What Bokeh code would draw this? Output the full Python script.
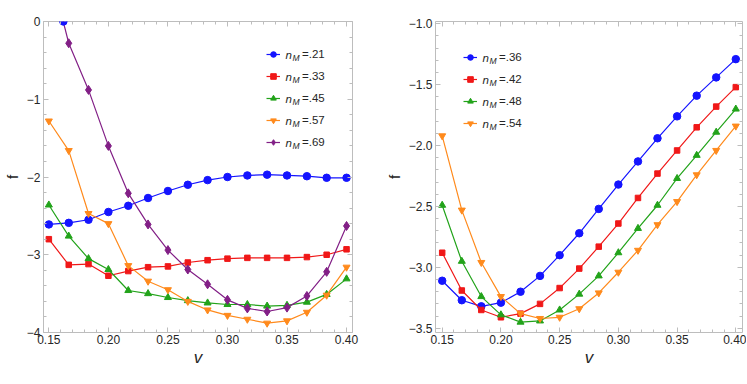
from bokeh.plotting import figure
from bokeh.layouts import row
from bokeh.models import (LinearAxis, FixedTicker, Legend, LegendItem, Label,
                          Range1d, CustomJSTickFormatter)
from bokeh.embed import file_html
from bokeh.resources import INLINE

# ---------------- data ----------------
v = [0.15, 0.1667, 0.1833, 0.2, 0.2167, 0.2333, 0.25, 0.2667, 0.2833, 0.3,
     0.3167, 0.3333, 0.35, 0.3667, 0.3833, 0.4]

# left panel
f_21 = [-2.61, -2.59, -2.55, -2.45, -2.37, -2.27, -2.18, -2.10, -2.04, -2.00,
        -1.98, -1.97, -1.98, -1.99, -2.01, -2.01]
f_33 = [-2.80, -3.13, -3.12, -3.27, -3.21, -3.16, -3.15, -3.10, -3.07, -3.05,
        -3.04, -3.04, -3.04, -3.03, -3.00, -2.93]
f_45 = [-2.36, -2.76, -3.05, -3.19, -3.46, -3.50, -3.55, -3.59, -3.62, -3.64,
        -3.64, -3.66, -3.65, -3.61, -3.51, -3.31]
f_57 = [-1.28, -1.66, -2.47, -2.60, -3.14, -3.34, -3.45, -3.60, -3.71, -3.78,
        -3.83, -3.88, -3.85, -3.74, -3.52, -3.16]
f_69 = [0.73, -0.28, -0.88, -1.60, -2.21, -2.61, -2.94, -3.19, -3.38, -3.58,
        -3.69, -3.73, -3.68, -3.53, -3.22, -2.63]
# stray blue marker clipped at the top edge of the left panel
extra_v = [0.1622]
extra_f = [0.0]

# right panel
f_36 = [-3.11, -3.27, -3.32, -3.29, -3.20, -3.07, -2.90, -2.72, -2.52, -2.32,
        -2.13, -1.94, -1.76, -1.59, -1.44, -1.29]
f_42 = [-2.88, -3.19, -3.35, -3.41, -3.38, -3.30, -3.17, -3.01, -2.83, -2.64,
        -2.43, -2.23, -2.04, -1.85, -1.68, -1.52]
f_48 = [-2.49, -2.95, -3.24, -3.39, -3.45, -3.44, -3.35, -3.22, -3.07, -2.88,
        -2.68, -2.49, -2.27, -2.08, -1.89, -1.70]
f_54 = [-1.92, -2.53, -2.96, -3.24, -3.38, -3.42, -3.41, -3.34, -3.21, -3.04,
        -2.86, -2.65, -2.46, -2.24, -2.04, -1.84]

left_labels = [".21", ".33", ".45", ".57", ".69"]
right_labels = [".36", ".42", ".48", ".54"]

x_ticks = [0.15, 0.20, 0.25, 0.30, 0.35, 0.40]
x_minor = [round(0.14 + 0.01 * i, 2) for i in range(28)]
left_y_ticks = [-4, -3, -2, -1, 0]
left_y_minor = [round(-4.2 + 0.2 * i, 1) for i in range(23)]
right_y_ticks = [-3.5, -3.0, -2.5, -2.0, -1.5, -1.0]
right_y_minor = [round(-3.5 + 0.1 * i, 1) for i in range(26)]

# ---------------- style ----------------
BLUE = "#1414ff"
RED = "#f01818"
GREEN = "#22a31a"
ORANGE = "#ff8a1c"
PURPLE = "#821f86"
FONT = "Liberation Sans"
FRAME = "#bdbdbd"
TXT = "#262626"

styles = [
    (BLUE, "circle", 7.5),
    (RED, "square", 5.5),
    (GREEN, "triangle", 7),
    (ORANGE, "inverted_triangle", 7),
    (PURPLE, "diamond", 9),
]

x_fmt = CustomJSTickFormatter(code="return tick.toFixed(2);")
blank_fmt = CustomJSTickFormatter(code="return '';")


def y_fmt(dec):
    return CustomJSTickFormatter(
        code="return (tick < 0 ? '\u2212' : '') + Math.abs(tick).toFixed(%d);" % dec)


def style_axis(ax, labeled):
    ax.axis_line_color = None
    ax.major_tick_in = 5
    ax.major_tick_out = 0
    ax.minor_tick_in = 3
    ax.minor_tick_out = 0
    ax.major_tick_line_color = FRAME
    ax.minor_tick_line_color = FRAME
    ax.major_label_standoff = 3
    ax.major_label_text_font = FONT
    ax.major_label_text_font_size = "12px"
    ax.major_label_text_color = TXT
    if not labeled:
        ax.formatter = blank_fmt
        ax.major_label_standoff = 0
        ax.major_label_text_font_size = "1px"


def make_fig(width, height, bl, br, bt, bb, xr, yr, yt, ym, ydec):
    p = figure(width=width, height=height, x_range=Range1d(*xr), y_range=Range1d(*yr),
               output_backend="svg", toolbar_location=None, x_axis_location=None,
               y_axis_location=None, min_border_left=bl, min_border_right=br,
               min_border_top=bt, min_border_bottom=bb)
    p.grid.visible = False
    p.outline_line_color = FRAME
    p.outline_line_width = 1
    p.background_fill_color = "white"
    p.border_fill_color = "white"
    xt = FixedTicker(ticks=x_ticks, minor_ticks=x_minor)
    ytk = FixedTicker(ticks=yt, minor_ticks=ym)
    bottom = LinearAxis(ticker=xt, formatter=x_fmt, axis_label="v")
    style_axis(bottom, True)
    bottom.major_label_standoff = 2
    bottom.axis_label_text_font = FONT
    bottom.axis_label_text_font_style = "italic"
    bottom.axis_label_text_font_size = "17px"
    bottom.axis_label_text_color = TXT
    bottom.axis_label_standoff = 1
    left = LinearAxis(ticker=ytk, formatter=y_fmt(ydec), axis_label="f")
    style_axis(left, True)
    left.axis_label_text_font = FONT
    left.axis_label_text_font_style = "normal"
    left.axis_label_text_font_size = "15px"
    left.axis_label_text_color = TXT
    left.axis_label_standoff = 3
    top = LinearAxis(ticker=xt)
    style_axis(top, False)
    right = LinearAxis(ticker=ytk)
    style_axis(right, False)
    p.add_layout(bottom, "below")
    p.add_layout(left, "left")
    p.add_layout(top, "above")
    p.add_layout(right, "right")
    return p


def add_series(p, ys, labels, legend_x, legend_bottom):
    items = []
    for i, (y, lab) in enumerate(zip(ys, labels)):
        col, mk, sz = styles[i]
        ln = p.line(v, y, line_color=col, line_width=1.2)
        sc = p.scatter(v, y, marker=mk, size=sz, fill_color=col, line_color=col)
        items.append(LegendItem(label="=" + lab, renderers=[ln, sc]))
    n = len(items)
    lg = Legend(items=items, location=(legend_x, legend_bottom), orientation="vertical",
                padding=0, margin=0, spacing=6, glyph_width=14, glyph_height=16,
                label_height=16, label_standoff=22, border_line_alpha=0,
                background_fill_alpha=0, label_text_font=FONT,
                label_text_font_size="11.5px", label_text_color=TXT)
    p.add_layout(lg)
    top = legend_bottom + n * 16 + (n - 1) * 6
    for i in range(n):
        yc = top - 8 - 22 * i
        p.add_layout(Label(x=legend_x + 19, y=yc, x_units="screen", y_units="screen",
                           text="n", text_font=FONT, text_font_style="italic",
                           text_font_size="11.5px", text_color=TXT,
                           text_baseline="middle", text_align="left"))
        p.add_layout(Label(x=legend_x + 26, y=yc - 3.5, x_units="screen", y_units="screen",
                           text="M", text_font=FONT, text_font_style="italic",
                           text_font_size="8.5px", text_color=TXT,
                           text_baseline="middle", text_align="left"))


# left panel: frame x 43..352, y 21..332
p1 = make_fig(382, 384, 43, 30, 21, 52, (0.1455, 0.405), (-4, 0),
              left_y_ticks, left_y_minor, 0)
add_series(p1, [f_21, f_33, f_45, f_57, f_69], left_labels, 223, 182)
p1.scatter(extra_v, extra_f, marker="circle", size=7.5, fill_color=BLUE, line_color=BLUE)

# right panel: frame x 435..742, y 21..332 (borders are shared across the row)
p2 = make_fig(364, 384, 53, 4, 21, 52, (0.1443, 0.4057), (-3.535, -0.981),
              right_y_ticks, right_y_minor, 1)
add_series(p2, [f_36, f_42, f_48, f_54], right_labels, 28, 201)

layout = row(p1, p2)
open("out.html", "w").write(file_html(layout, INLINE))
